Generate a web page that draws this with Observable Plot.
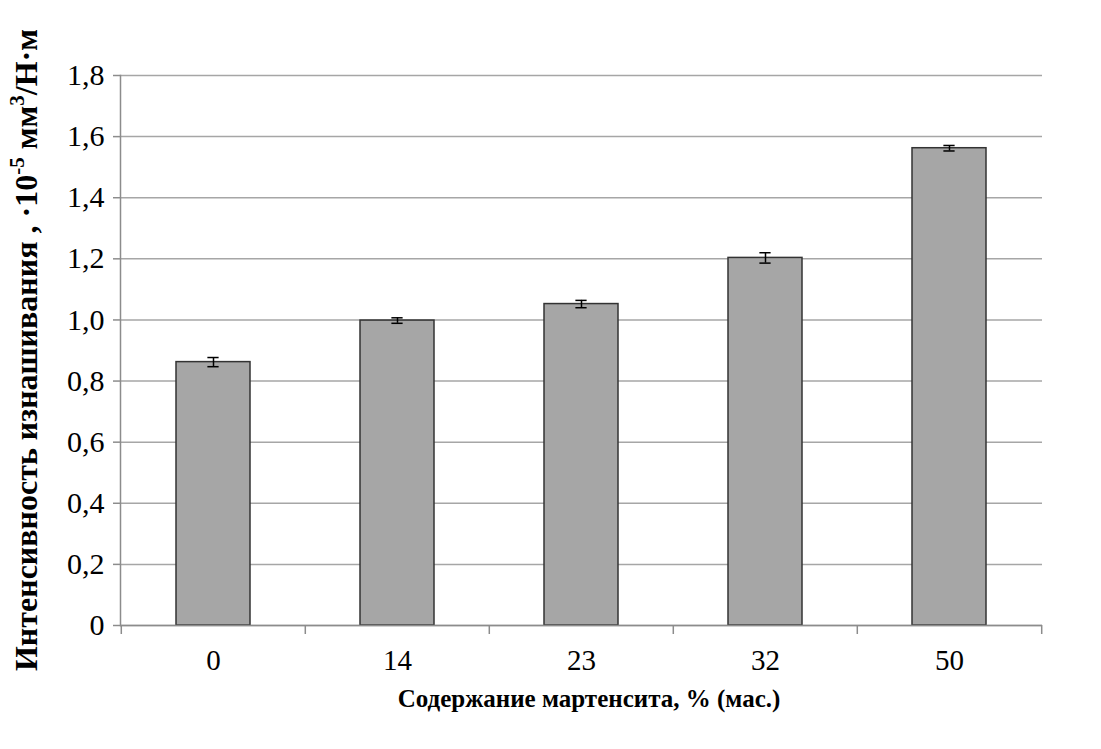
<!DOCTYPE html>
<html>
<head>
<meta charset="utf-8">
<script src="https://cdn.jsdelivr.net/npm/d3@7"></script>
<script src="https://cdn.jsdelivr.net/npm/@observablehq/plot@0.6"></script>
<style>
  html, body { margin: 0; padding: 0; background: #fff; }
  #chart svg { display: block; }
  #chart svg, #chart svg text, #chart svg tspan { font-family: "Liberation Serif", "Times New Roman", serif !important; }
</style>
</head>
<body>
<div id="chart"></div>
<script>
const categories = ["0", "14", "23", "32", "50"];
const values = [0.862, 0.998, 1.052, 1.203, 1.562];
const errors = [0.015, 0.009, 0.012, 0.017, 0.009];
const yTicks = [0, 0.2, 0.4, 0.6, 0.8, 1.0, 1.2, 1.4, 1.6, 1.8];
const xTitle = "Содержание мартенсита, % (мас.)";
const yTitleMain = "Интенсивность изнашивания , ·10";
const yTitleSup1 = "-5";
const yTitleMid = " мм";
const yTitleSup2 = "3";
const yTitleEnd = "/Н·м";

const data = categories.map((c, i) => ({cat: c, val: values[i], err: errors[i]}));

const W = 1101, H = 749;
const mL = 120, mR = 59, mT = 75, mB = 124;
const step = (W - mL - mR) / categories.length;
const padInner = 0.6;
const capInset = (step * (1 - padInner) - 11) / 2;

const fmt = d => d === 0 ? "0" : d.toFixed(1).replace(".", ",");

const plot = Plot.plot({
  width: W,
  height: H,
  marginLeft: mL,
  marginRight: mR,
  marginTop: mT,
  marginBottom: mB,
  style: {background: "#fff", color: "#000"},
  x: {domain: categories, paddingInner: padInner, paddingOuter: padInner / 2, label: null},
  y: {domain: [0, 1.8], label: null},
  marks: [
    Plot.gridY(yTicks, {stroke: "#a6a6a6", strokeOpacity: 1, strokeWidth: 1.5}),
    Plot.barY(data, {x: "cat", y: "val", fill: "#a6a6a6", stroke: "#333", strokeWidth: 1.5}),
    Plot.ruleX(data, {x: "cat", y1: d => d.val - d.err, y2: d => d.val + d.err, stroke: "#000", strokeWidth: 1.5}),
    Plot.tickY(data, {x: "cat", y: d => d.val - d.err, stroke: "#000", strokeWidth: 1.5, insetLeft: capInset, insetRight: capInset}),
    Plot.tickY(data, {x: "cat", y: d => d.val + d.err, stroke: "#000", strokeWidth: 1.5, insetLeft: capInset, insetRight: capInset}),
    Plot.frame({anchor: "left", stroke: "#8c8c8c", strokeWidth: 1.5}),
    Plot.ruleY([0], {stroke: "#8c8c8c", strokeWidth: 1.5}),
    Plot.axisY({ticks: yTicks, tickFormat: fmt, tickSize: 7, tickPadding: 9, stroke: "#8c8c8c", strokeWidth: 1.5, fontSize: 30, fill: "#000", label: null}),
    Plot.axisX({tickSize: 0, tickPadding: 24, fontSize: 29, fill: "#000", label: null}),
    Plot.axisX({tickSize: 9, tickFormat: () => "", dx: -step / 2, stroke: "#8c8c8c", strokeWidth: 1.5, label: null}),
    Plot.axisX({ticks: [categories[categories.length - 1]], tickSize: 9, tickFormat: () => "", dx: step / 2, stroke: "#8c8c8c", strokeWidth: 1.5, label: null})
  ]
});

document.getElementById("chart").appendChild(plot);

const svg = d3.select(plot);
svg.append("text")
  .attr("x", 589).attr("y", 707)
  .attr("text-anchor", "middle")
  .attr("font-weight", "bold")
  .attr("font-size", 25)
  .attr("fill", "#000")
  .text(xTitle);

const yt = svg.append("text")
  .attr("transform", "translate(37,350) rotate(-90)")
  .attr("text-anchor", "middle")
  .attr("font-weight", "bold")
  .attr("font-size", 32)
  .attr("fill", "#000");
yt.append("tspan").text(yTitleMain);
yt.append("tspan").attr("dy", -13).attr("font-size", 21).text(yTitleSup1);
yt.append("tspan").attr("dy", 13).text(yTitleMid);
yt.append("tspan").attr("dy", -13).attr("font-size", 21).text(yTitleSup2);
yt.append("tspan").attr("dy", 13).text(yTitleEnd);
</script>
</body>
</html>
